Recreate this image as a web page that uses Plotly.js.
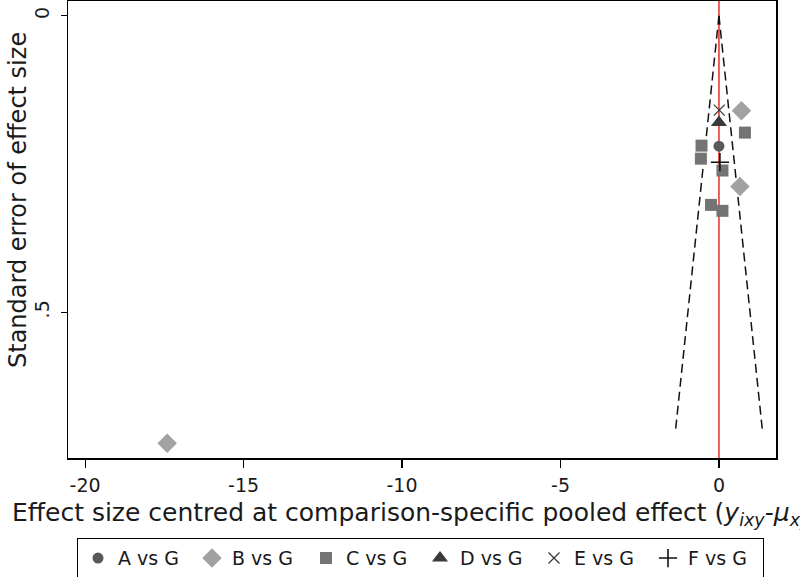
<!DOCTYPE html>
<html>
<head>
<meta charset="utf-8">
<script src="https://cdn.plot.ly/plotly-3.0.1.min.js"></script>
<style>html,body{margin:0;padding:0;background:#fff;overflow:hidden;}#chart{width:800px;height:577px;}</style>
</head>
<body>
<div id="chart"></div>
<script>
// Effect size centred (x) and standard error (y) per comparison
const aX = [0.00];
const aY = [0.220];
const bX = [0.71, 0.66, -17.41];
const bY = [0.160, 0.288, 0.721];
const cX = [0.82, -0.55, -0.57, 0.11, -0.25, 0.11];
const cY = [0.197, 0.219, 0.241, 0.261, 0.319, 0.329];
const dX = [0.00];
const dY = [0.180];
const eX = [0.01];
const eY = [0.159];
const fX = [0.03];
const fY = [0.247];
// pseudo 95% confidence limits of the funnel
const funnelSE = [0, 0.70];
const funnelLo = [0, -1.372];
const funnelHi = [0, 1.372];
const legendNames = ['A vs G', 'B vs G', 'C vs G', 'D vs G', 'E vs G', 'F vs G'];
const xTicks = [-20, -15, -10, -5, 0];
const yTicks = [0, 0.5];
const yTickText = ['0', '.5'];

const FONT = 'DejaVu Sans, Noto Sans, sans-serif';

const traces = [
  {x: funnelLo, y: funnelSE, mode: 'lines', showlegend: false, hoverinfo: 'skip',
   line: {color: '#111', width: 1.5, dash: '9px,5px'}},
  {x: funnelHi, y: funnelSE, mode: 'lines', showlegend: false, hoverinfo: 'skip',
   line: {color: '#111', width: 1.5, dash: '9px,5px'}},
  {x: aX, y: aY, name: legendNames[0], mode: 'markers', type: 'scatter',
   marker: {symbol: 'circle', size: 11, color: '#595959'}},
  {x: bX, y: bY, name: legendNames[1], mode: 'markers', type: 'scatter',
   marker: {symbol: 'diamond', size: 15, color: '#a2a2a2'}},
  {x: cX, y: cY, name: legendNames[2], mode: 'markers', type: 'scatter',
   marker: {symbol: 'square', size: 12, color: '#747474'}},
  {x: dX, y: dY, name: legendNames[3], mode: 'markers', type: 'scatter',
   marker: {symbol: 'triangle-up', size: 14, color: '#3a3a3a'}},
  {x: eX, y: eY, name: legendNames[4], mode: 'markers', type: 'scatter',
   marker: {symbol: 'x-thin-open', size: 11, color: '#333', line: {width: 1.2, color: '#333'}}},
  {x: fX, y: fY, name: legendNames[5], mode: 'markers', type: 'scatter',
   marker: {symbol: 'cross-thin-open', size: 13, color: '#111', line: {width: 1.6, color: '#111'}}}
];

const layout = {
  width: 800, height: 577,
  margin: {l: 68, r: 24, t: 1, b: 119, autoexpand: false},
  paper_bgcolor: '#fff', plot_bgcolor: '#fff',
  font: {family: FONT, color: '#1a1a1a', size: 19},
  showlegend: true,
  legend: {
    orientation: 'h', xref: 'container', yref: 'container',
    x: 0.096, xanchor: 'left', y: 0.0676, yanchor: 'top',
    bordercolor: '#000', borderwidth: 1.2, font: {size: 19, family: FONT},
    entrywidth: 69, entrywidthmode: 'pixels', itemwidth: 30
  },
  xaxis: {
    range: [-20.54, 1.8], tickvals: xTicks, ticktext: xTicks.map(String),
    ticks: 'outside', ticklen: 8, tickwidth: 1.2, tickcolor: '#000',
    showline: true, mirror: true, linecolor: '#000', linewidth: 1.5,
    showgrid: false, zeroline: false, tickfont: {size: 19}, ticklabelstandoff: 2
  },
  yaxis: {
    range: [0.746, -0.025], tickvals: yTicks, ticktext: yTickText, tickangle: -90,
    ticks: 'outside', ticklen: 6, tickwidth: 1.2, tickcolor: '#000',
    showline: true, mirror: true, linecolor: '#000', linewidth: 1.5,
    showgrid: false, zeroline: false, tickfont: {size: 19}, ticklabelstandoff: 4
  },
  shapes: [
    {type: 'line', xref: 'x', yref: 'paper', x0: 0, x1: 0, y0: 0, y1: 1,
     line: {color: '#e23b35', width: 1.6}, layer: 'below'}
  ],
  annotations: [
    {text: 'Standard error of effect size', xref: 'paper', yref: 'paper',
     x: -0.0706, y: 0.5646, xanchor: 'center', yanchor: 'middle', textangle: -90,
     showarrow: false, font: {size: 24, family: FONT}},
    {text: 'Effect size centred at comparison-specific pooled effect (<i>y</i><sub><i>ixy</i></sub>-<i>μ</i><sub><i>xy</i></sub>)',
     xref: 'paper', yref: 'paper', x: -0.0819, y: -0.1225, xanchor: 'left', yanchor: 'middle',
     showarrow: false, font: {size: 25, family: FONT}}
  ]
};

Plotly.newPlot('chart', traces, layout, {displayModeBar: false, staticPlot: true});
</script>
</body>
</html>
